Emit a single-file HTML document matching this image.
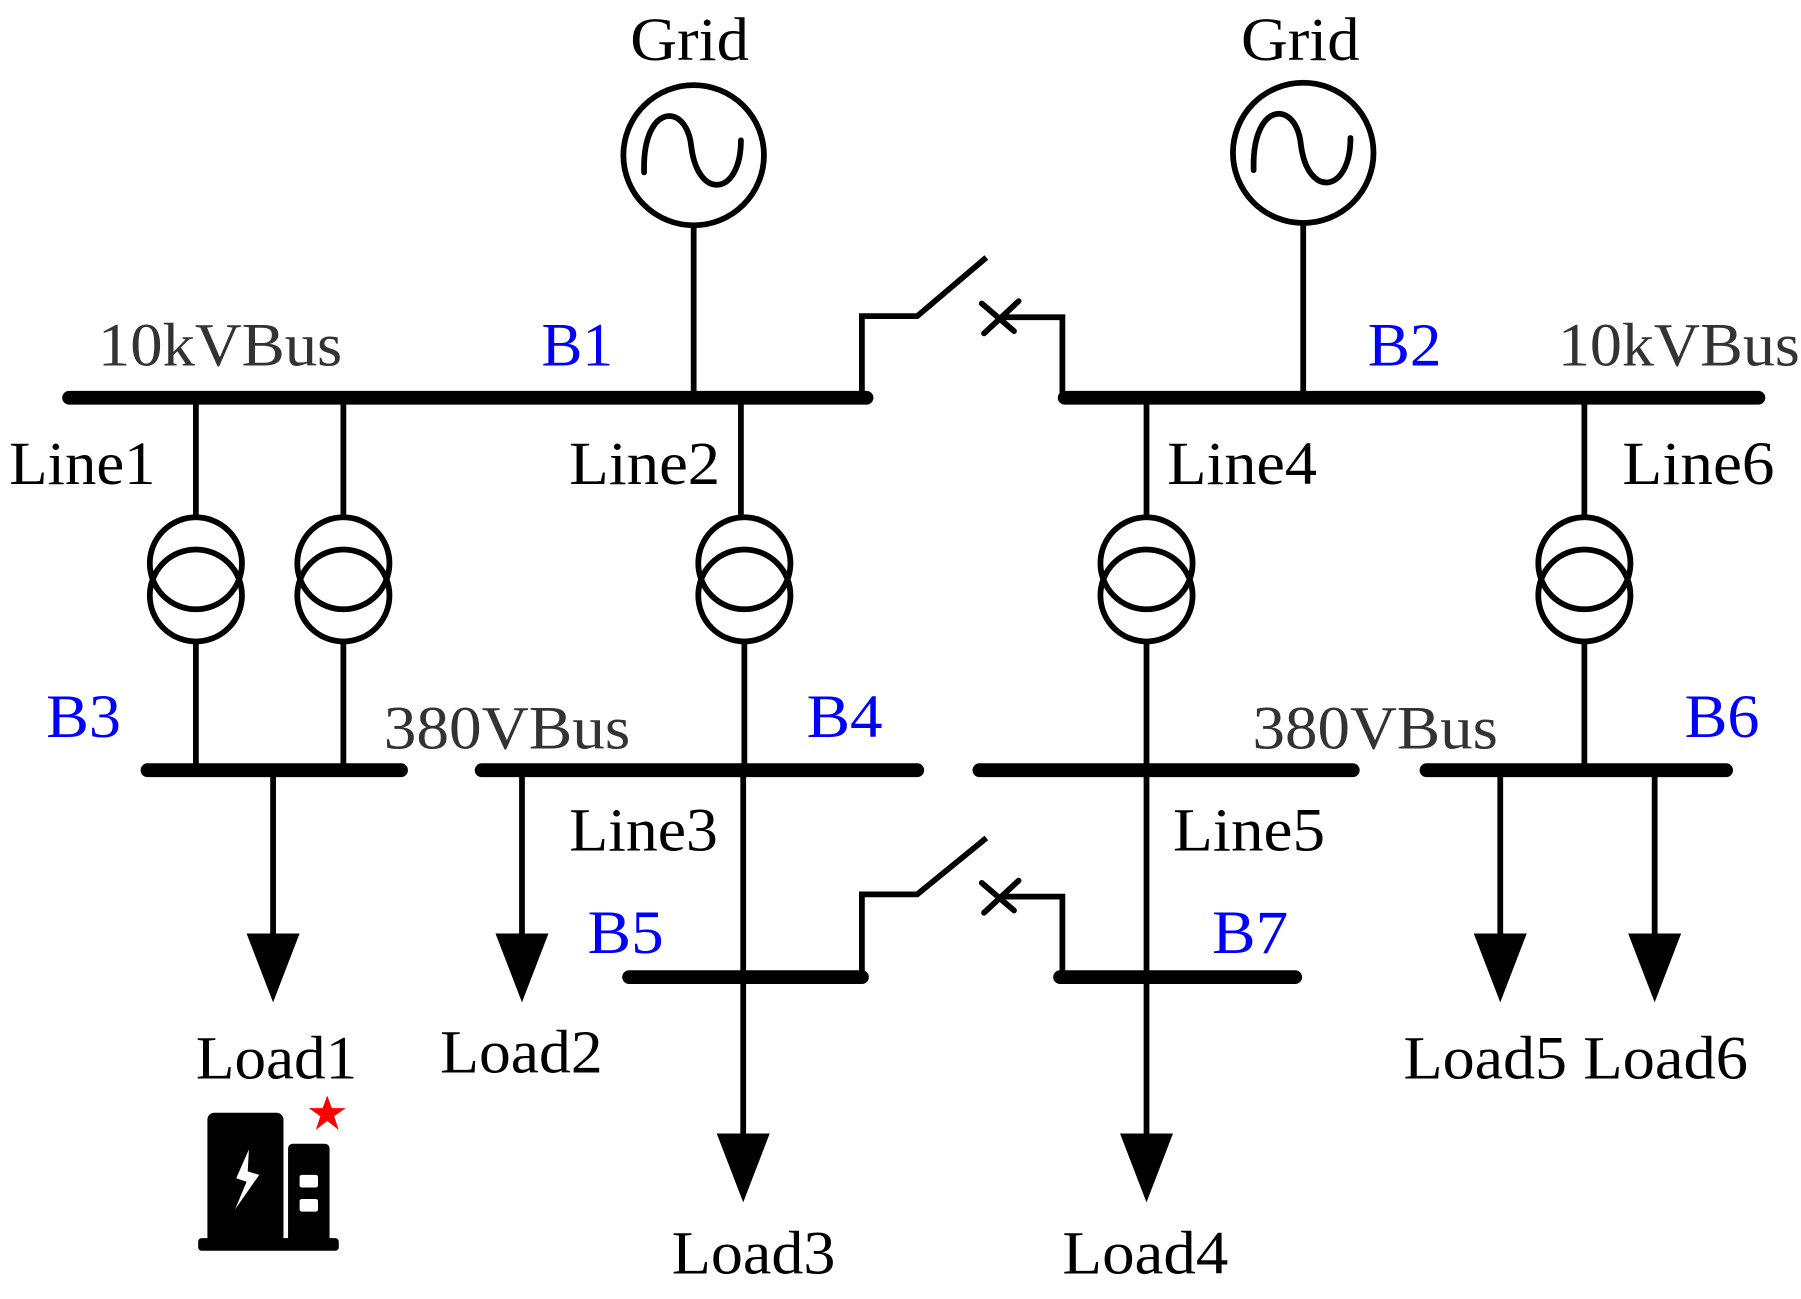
<!DOCTYPE html>
<html><head><meta charset="utf-8"><style>html,body{margin:0;padding:0;background:#fff}svg{display:block}</style></head>
<body>
<svg width="1801" height="1299" viewBox="0 0 1563 1130" preserveAspectRatio="none" xmlns="http://www.w3.org/2000/svg" font-family="Liberation Serif, serif" font-size="53">
<g stroke="#000" fill="none" stroke-linecap="round">
<g stroke-width="12">
<line x1="60" y1="346" x2="752" y2="346"/>
<line x1="924" y1="346" x2="1526" y2="346"/>
<line x1="128" y1="670" x2="348" y2="670"/>
<line x1="418" y1="670" x2="796" y2="670"/>
<line x1="850" y1="670" x2="1174" y2="670"/>
<line x1="1238" y1="670" x2="1498" y2="670"/>
<line x1="546" y1="850" x2="748" y2="850"/>
<line x1="920" y1="850" x2="1124" y2="850"/>
</g>
<g stroke-width="5" stroke-linecap="butt">
<circle cx="602" cy="135" r="61"/>
<path d="M559 150 C557 90 596 88 600 128 C606 175 643 170 643 122" stroke-linecap="round"/>
<line x1="602" y1="196" x2="602" y2="346"/>
<circle cx="1131" cy="133" r="61"/>
<path d="M1088 148 C1086 88 1125 86 1129 126 C1135 173 1172 168 1172 120" stroke-linecap="round"/>
<line x1="1131" y1="194" x2="1131" y2="346"/>
<polyline points="748,346 748,275 796,275 856,224"/>
<polyline points="868,276 922,276 922,346"/>
<line x1="852" y1="264" x2="880" y2="288" stroke-linecap="round"/>
<line x1="854" y1="290" x2="884" y2="262" stroke-linecap="round"/>
<polyline points="748,850 748,778 796,778 856,729"/>
<polyline points="868,780 922,780 922,850"/>
<line x1="852" y1="768" x2="880" y2="792" stroke-linecap="round"/>
<line x1="854" y1="794" x2="884" y2="766" stroke-linecap="round"/>
<line x1="170" y1="346" x2="170" y2="450"/><circle cx="170" cy="490" r="40"/><circle cx="170" cy="518" r="40"/><line x1="170" y1="558" x2="170" y2="670"/>
<line x1="298" y1="346" x2="298" y2="450"/><circle cx="298" cy="490" r="40"/><circle cx="298" cy="518" r="40"/><line x1="298" y1="558" x2="298" y2="670"/>
<line x1="643" y1="346" x2="643" y2="450"/><circle cx="646" cy="490" r="40"/><circle cx="646" cy="518" r="40"/><line x1="646" y1="558" x2="646" y2="670"/>
<line x1="995" y1="346" x2="995" y2="450"/><circle cx="995" cy="490" r="40"/><circle cx="995" cy="518" r="40"/><line x1="995" y1="558" x2="995" y2="670"/>
<line x1="1375" y1="346" x2="1375" y2="450"/><circle cx="1375" cy="490" r="40"/><circle cx="1375" cy="518" r="40"/><line x1="1375" y1="558" x2="1375" y2="670"/>
<line x1="237" y1="670" x2="237" y2="820"/>
<line x1="453" y1="670" x2="453" y2="820"/>
<line x1="645" y1="670" x2="645" y2="990"/>
<line x1="995" y1="670" x2="995" y2="990"/>
<line x1="1302" y1="670" x2="1302" y2="820"/>
<line x1="1436" y1="670" x2="1436" y2="820"/>
</g>
</g>
<g fill="#000">
<polygon points="214,812 260,812 237,872"/>
<polygon points="430,812 476,812 453,872"/>
<polygon points="622,986 668,986 645,1046"/>
<polygon points="972,986 1018,986 995,1046"/>
<polygon points="1279,812 1325,812 1302,872"/>
<polygon points="1413,812 1459,812 1436,872"/>
<rect x="180" y="968" width="66" height="114" rx="6"/>
<rect x="250" y="995" width="36" height="87" rx="4"/>
<rect x="172" y="1077" width="122" height="11" rx="3"/>
<polygon points="216,1000 205,1025 214,1028 204,1052 225,1022 215,1019" fill="#fff"/>
<rect x="260" y="1022" width="16" height="11" rx="2" fill="#fff"/>
<rect x="260" y="1043" width="16" height="11" rx="2" fill="#fff"/>
<polygon points="284,953 288,964 300,964 290,971 294,983 284,975 274,983 278,971 268,964 280,964" fill="#f00"/>
</g>
<g fill="#000" lengthAdjust="spacingAndGlyphs">
<text x="547" y="52" textLength="103" lengthAdjust="spacingAndGlyphs">Grid</text>
<text x="1077" y="52" textLength="103" lengthAdjust="spacingAndGlyphs">Grid</text>
<text x="85" y="318" fill="#333" textLength="212" lengthAdjust="spacingAndGlyphs">10kVBus</text>
<text x="1352" y="318" fill="#333" textLength="210" lengthAdjust="spacingAndGlyphs">10kVBus</text>
<text x="8" y="421" textLength="127" lengthAdjust="spacingAndGlyphs">Line1</text>
<text x="494" y="421" textLength="131" lengthAdjust="spacingAndGlyphs">Line2</text>
<text x="1013" y="421" textLength="130" lengthAdjust="spacingAndGlyphs">Line4</text>
<text x="1408" y="421" textLength="132" lengthAdjust="spacingAndGlyphs">Line6</text>
<text x="333" y="651" fill="#333" textLength="214" lengthAdjust="spacingAndGlyphs">380VBus</text>
<text x="1087" y="651" fill="#333" textLength="213" lengthAdjust="spacingAndGlyphs">380VBus</text>
<text x="494" y="740" textLength="129" lengthAdjust="spacingAndGlyphs">Line3</text>
<text x="1018" y="740" textLength="132" lengthAdjust="spacingAndGlyphs">Line5</text>
<text x="170" y="938" textLength="140" lengthAdjust="spacingAndGlyphs">Load1</text>
<text x="382" y="933" textLength="141" lengthAdjust="spacingAndGlyphs">Load2</text>
<text x="583" y="1108" textLength="142" lengthAdjust="spacingAndGlyphs">Load3</text>
<text x="922" y="1108" textLength="144" lengthAdjust="spacingAndGlyphs">Load4</text>
<text x="1218" y="938" textLength="142" lengthAdjust="spacingAndGlyphs">Load5</text>
<text x="1374" y="938" textLength="143" lengthAdjust="spacingAndGlyphs">Load6</text>
</g>
<g fill="#00f">
<text x="470" y="318" textLength="62" lengthAdjust="spacingAndGlyphs">B1</text>
<text x="1187" y="318" textLength="64" lengthAdjust="spacingAndGlyphs">B2</text>
<text x="40" y="641" textLength="65" lengthAdjust="spacingAndGlyphs">B3</text>
<text x="700" y="641" textLength="66" lengthAdjust="spacingAndGlyphs">B4</text>
<text x="1462" y="641" textLength="65" lengthAdjust="spacingAndGlyphs">B6</text>
<text x="510" y="829" textLength="66" lengthAdjust="spacingAndGlyphs">B5</text>
<text x="1052" y="829" textLength="66" lengthAdjust="spacingAndGlyphs">B7</text>
</g>
</svg>
</body></html>
